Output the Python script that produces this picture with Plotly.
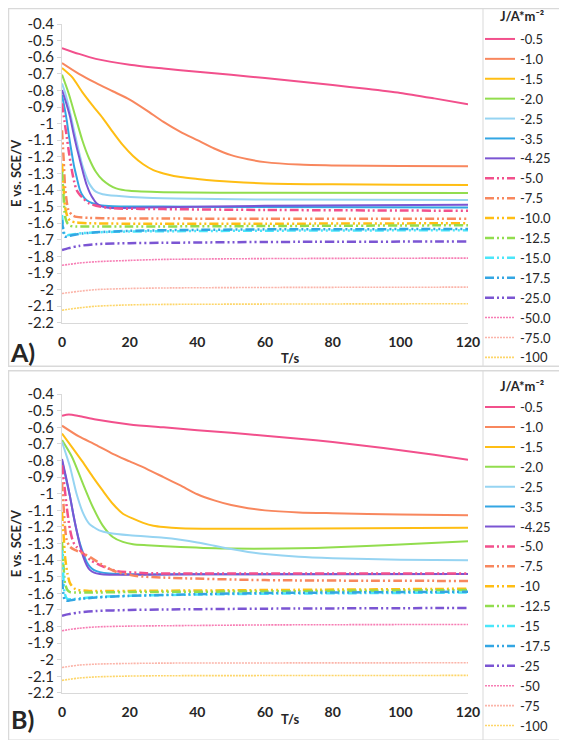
import plotly.graph_objects as go

# ---------------- DATA ----------------
LEGEND_TITLE = "<b>J/A*m⁻²</b>"
LABELS_A = ["-0.5", "-1.0", "-1.5", "-2.0", "-2.5", "-3.5", "-4.25", "-5.0", "-7.5",
            "-10.0", "-12.5", "-15.0", "-17.5", "-25.0", "-50.0", "-75.0", "-100"]
LABELS_B = ["-0.5", "-1.0", "-1.5", "-2.0", "-2.5", "-3.5", "-4.25", "-5.0", "-7.5",
            "-10", "-12.5", "-15", "-17.5", "-25", "-50", "-75", "-100"]

Y_TICK_VALUES = [-0.4, -0.5, -0.6, -0.7, -0.8, -0.9, -1.0, -1.1, -1.2, -1.3, -1.4,
                 -1.5, -1.6, -1.7, -1.8, -1.9, -2.0, -2.1, -2.2]
Y_TICK_TEXT = ["-0.4", "-0.5", "-0.6", "-0.7", "-0.8", "-0.9", "-1", "-1.1", "-1.2",
               "-1.3", "-1.4", "-1.5", "-1.6", "-1.7", "-1.8", "-1.9", "-2", "-2.1", "-2.2"]
X_TICK_VALUES = [0, 20, 40, 60, 80, 100, 120]
X_TITLE = "<b>T/s</b>"
Y_TITLE = "<b>E vs. SCE/V</b>"

# ---- Panel A ----
A_T_05 = [0, 5, 10, 20, 30, 40, 50, 60, 70, 80, 90, 100, 110, 120]
A_E_05 = [-0.545, -0.58, -0.61, -0.645, -0.668, -0.688, -0.706, -0.726, -0.746, -0.768, -0.79, -0.815, -0.848, -0.883]
A_T_10 = [0, 5, 10, 15, 20, 25, 30, 35, 40, 45, 50, 55, 60, 70, 80, 100, 120]
A_E_10 = [-0.635, -0.70, -0.755, -0.805, -0.855, -0.92, -0.99, -1.05, -1.10, -1.15, -1.19, -1.215, -1.232, -1.247, -1.252, -1.256, -1.257]
A_T_15 = [0, 3, 6, 9, 12, 15, 18, 21, 24, 27, 30, 35, 40, 50, 60, 80, 100, 120]
A_E_15 = [-0.665, -0.72, -0.81, -0.89, -0.965, -1.05, -1.13, -1.195, -1.245, -1.28, -1.30, -1.322, -1.333, -1.35, -1.36, -1.366, -1.368, -1.37]
A_T_20 = [0, 2, 4, 6, 8, 10, 12, 14, 16, 20, 30, 60, 120]
A_E_20 = [-0.705, -0.82, -0.96, -1.10, -1.21, -1.29, -1.34, -1.37, -1.39, -1.405, -1.413, -1.417, -1.418]
A_T_25 = [0, 1, 2, 3, 4, 5, 6, 7, 8, 10, 12, 16, 25, 40, 60, 120]
A_E_25 = [-0.758, -0.82, -0.90, -0.99, -1.08, -1.17, -1.25, -1.31, -1.36, -1.41, -1.425, -1.435, -1.447, -1.453, -1.457, -1.46]
A_T_35 = [0, 0.7, 1.4, 2.1, 2.9, 3.6, 4.3, 5.3, 6.3, 7.3, 9, 11.2, 15, 30, 60, 120]
A_E_35 = [-0.828, -0.90, -0.98, -1.08, -1.18, -1.26, -1.32, -1.40, -1.44, -1.462, -1.48, -1.492, -1.498, -1.50, -1.503, -1.505]
A_T_425 = [0, 1, 2.4, 3.3, 4.3, 5.3, 6.3, 7.3, 8.3, 9.3, 10.2, 11.5, 13.2, 16, 25, 60, 120]
A_E_425 = [-0.798, -0.86, -0.96, -1.05, -1.14, -1.22, -1.30, -1.37, -1.42, -1.455, -1.48, -1.497, -1.505, -1.508, -1.505, -1.495, -1.488]
A_T_50 = [0, 0.7, 1.4, 2.1, 2.9, 3.6, 4.3, 5.3, 6.3, 8, 11.2, 15, 30, 60, 120]
A_E_50 = [-0.878, -0.98, -1.08, -1.18, -1.28, -1.35, -1.40, -1.43, -1.451, -1.48, -1.50, -1.51, -1.515, -1.52, -1.525]
A_T_75 = [0, 0.5, 0.9, 1.4, 1.9, 3, 4.3, 8, 15, 30, 60, 120]
A_E_75 = [-1.04, -1.22, -1.38, -1.47, -1.52, -1.55, -1.562, -1.568, -1.571, -1.572, -1.573, -1.573]
A_T_100 = [0, 0.5, 0.9, 1.6, 2.4, 4, 8, 20, 60, 120]
A_E_100 = [-1.24, -1.40, -1.50, -1.56, -1.585, -1.595, -1.60, -1.603, -1.603, -1.60]
A_T_125 = [0, 0.5, 0.9, 1.6, 2.4, 4, 8, 20, 60, 120]
A_E_125 = [-1.29, -1.45, -1.56, -1.60, -1.615, -1.62, -1.62, -1.62, -1.617, -1.612]
A_T_150 = [0, 0.4, 0.8, 1.5, 3, 6, 10, 20, 40, 60, 120]
A_E_150 = [-1.55, -1.63, -1.665, -1.672, -1.668, -1.66, -1.655, -1.65, -1.647, -1.645, -1.642]
A_T_175 = [0, 0.4, 0.8, 1.5, 3, 6, 10, 20, 40, 60, 120]
A_E_175 = [-1.58, -1.65, -1.68, -1.68, -1.672, -1.662, -1.655, -1.646, -1.64, -1.637, -1.635]
A_T_250 = [0, 2, 5, 10, 20, 30, 60, 120]
A_E_250 = [-1.762, -1.75, -1.737, -1.726, -1.72, -1.718, -1.713, -1.71]
A_T_500 = [0, 2, 5, 10, 20, 30, 60, 120]
A_E_500 = [-1.853, -1.848, -1.84, -1.832, -1.824, -1.818, -1.813, -1.81]
A_T_750 = [0, 2, 5, 10, 20, 30, 60, 120]
A_E_750 = [-2.023, -2.018, -2.01, -2.0, -1.993, -1.99, -1.987, -1.985]
A_T_1000 = [0, 2, 5, 10, 20, 30, 60, 120]
A_E_1000 = [-2.124, -2.118, -2.11, -2.10, -2.092, -2.089, -2.087, -2.085]

# ---- Panel B ----
B_T_05 = [0, 2, 5, 10, 20, 30, 40, 50, 60, 70, 80, 90, 100, 110, 120]
B_E_05 = [-0.53, -0.523, -0.532, -0.553, -0.582, -0.60, -0.617, -0.633, -0.65, -0.668, -0.688, -0.712, -0.738, -0.765, -0.795]
B_T_10 = [0, 5, 10, 15, 20, 25, 30, 35, 40, 45, 50, 55, 60, 70, 80, 100, 120]
B_E_10 = [-0.59, -0.655, -0.705, -0.76, -0.805, -0.85, -0.90, -0.95, -1.003, -1.04, -1.068, -1.087, -1.10, -1.112, -1.117, -1.125, -1.13]
B_T_15 = [0, 3, 6, 9, 12, 15, 18, 21, 24, 27, 30, 35, 45, 60, 120]
B_E_15 = [-0.637, -0.72, -0.805, -0.895, -0.98, -1.06, -1.12, -1.15, -1.175, -1.192, -1.20, -1.207, -1.21, -1.21, -1.205]
B_T_20 = [0, 3, 6, 9, 12, 15, 18, 21, 25, 35, 50, 65, 75, 90, 100, 120]
B_E_20 = [-0.677, -0.78, -0.93, -1.075, -1.19, -1.26, -1.29, -1.304, -1.31, -1.32, -1.33, -1.33, -1.326, -1.315, -1.305, -1.286]
B_T_25 = [0, 1, 2.4, 4.3, 6.3, 8, 9.3, 11, 14, 20, 30, 35, 40, 45, 50, 55, 60, 70, 80, 100, 120]
B_E_25 = [-0.687, -0.75, -0.84, -1.0, -1.12, -1.18, -1.20, -1.22, -1.236, -1.25, -1.265, -1.277, -1.293, -1.313, -1.333, -1.35, -1.363, -1.38, -1.388, -1.397, -1.40]
B_T_35 = [0, 1.2, 2.4, 3.3, 4.3, 5.3, 6.3, 7.3, 8.3, 9.5, 11.2, 14, 20, 40, 120]
B_E_35 = [-0.80, -0.91, -1.02, -1.12, -1.22, -1.30, -1.36, -1.41, -1.44, -1.46, -1.472, -1.48, -1.485, -1.485, -1.483]
B_T_425 = [0, 1.2, 2.4, 3.3, 4.3, 5.3, 6.3, 7.3, 8.3, 9.5, 11.2, 14, 20, 40, 120]
B_E_425 = [-0.79, -0.90, -1.02, -1.12, -1.22, -1.31, -1.38, -1.43, -1.46, -1.475, -1.483, -1.487, -1.487, -1.485, -1.483]
B_T_50 = [0, 0.7, 1.4, 2.4, 3.3, 4.3, 6.3, 8.5, 11.2, 16, 25, 40, 120]
B_E_50 = [-0.828, -0.95, -1.08, -1.22, -1.29, -1.32, -1.36, -1.40, -1.43, -1.465, -1.478, -1.48, -1.48]
B_T_75 = [0, 0.4, 0.8, 1.4, 2.4, 4, 6.3, 9, 12, 16, 22, 30, 60, 120]
B_E_75 = [-0.93, -1.05, -1.18, -1.28, -1.32, -1.34, -1.36, -1.39, -1.43, -1.47, -1.495, -1.505, -1.52, -1.525]
B_T_100 = [0, 0.5, 0.9, 1.6, 2.4, 4, 8, 20, 60, 120]
B_E_100 = [-1.11, -1.26, -1.38, -1.48, -1.54, -1.575, -1.585, -1.585, -1.58, -1.572]
B_T_125 = [0, 0.5, 0.9, 1.6, 2.4, 4, 8, 20, 60, 120]
B_E_125 = [-1.29, -1.45, -1.54, -1.58, -1.592, -1.595, -1.595, -1.592, -1.588, -1.58]
B_T_150 = [0, 0.4, 0.8, 1.5, 3, 6, 10, 20, 40, 60, 120]
B_E_150 = [-1.34, -1.50, -1.60, -1.632, -1.635, -1.628, -1.622, -1.614, -1.607, -1.602, -1.595]
B_T_175 = [0, 0.4, 0.8, 1.5, 3, 6, 10, 20, 40, 60, 120]
B_E_175 = [-1.52, -1.60, -1.64, -1.645, -1.64, -1.632, -1.625, -1.615, -1.605, -1.598, -1.59]
B_T_250 = [0, 2, 5, 10, 20, 30, 60, 120]
B_E_250 = [-1.735, -1.725, -1.715, -1.706, -1.70, -1.697, -1.692, -1.688]
B_T_500 = [0, 2, 5, 10, 20, 30, 60, 120]
B_E_500 = [-1.825, -1.818, -1.81, -1.802, -1.797, -1.795, -1.79, -1.787]
B_T_750 = [0, 2, 5, 10, 20, 30, 60, 120]
B_E_750 = [-2.046, -2.04, -2.032, -2.026, -2.022, -2.02, -2.019, -2.018]
B_T_1000 = [0, 2, 5, 10, 20, 30, 60, 120]
B_E_1000 = [-2.124, -2.118, -2.11, -2.103, -2.098, -2.096, -2.095, -2.094]

# ---------------- STYLES ----------------
DDD = "9px,3px,2px,3px,2px,3px"
DOT = "2px,1px"
STYLES = [
    ("#F2508C", "solid", 2), ("#F8875E", "solid", 2), ("#FFBE14", "solid", 2),
    ("#92DD4E", "solid", 2), ("#96D4F2", "solid", 2), ("#33A6E3", "solid", 2),
    ("#7B55D3", "solid", 2),
    ("#F2508C", DDD, 2.5), ("#F8875E", DDD, 2.5), ("#FFBE14", DDD, 2.5),
    ("#92DD4E", DDD, 2.5), ("#4BE6FA", DDD, 2.5), ("#33A6E3", DDD, 2.5),
    ("#7B55D3", DDD, 2.5),
    ("#F77DB4", DOT, 1.6), ("#FBB5AA", DOT, 1.6), ("#FDD66A", DOT, 1.6),
]

SERIES_A = [(A_T_05, A_E_05), (A_T_10, A_E_10), (A_T_15, A_E_15), (A_T_20, A_E_20),
            (A_T_25, A_E_25), (A_T_35, A_E_35), (A_T_425, A_E_425), (A_T_50, A_E_50),
            (A_T_75, A_E_75), (A_T_100, A_E_100), (A_T_125, A_E_125), (A_T_150, A_E_150),
            (A_T_175, A_E_175), (A_T_250, A_E_250), (A_T_500, A_E_500), (A_T_750, A_E_750),
            (A_T_1000, A_E_1000)]
SERIES_B = [(B_T_05, B_E_05), (B_T_10, B_E_10), (B_T_15, B_E_15), (B_T_20, B_E_20),
            (B_T_25, B_E_25), (B_T_35, B_E_35), (B_T_425, B_E_425), (B_T_50, B_E_50),
            (B_T_75, B_E_75), (B_T_100, B_E_100), (B_T_125, B_E_125), (B_T_150, B_E_150),
            (B_T_175, B_E_175), (B_T_250, B_E_250), (B_T_500, B_E_500), (B_T_750, B_E_750),
            (B_T_1000, B_E_1000)]

# ---------------- LAYOUT ----------------
# The page body adds an 8px offset; the figure is laid out in screen pixels
# (S) and converted so that it lands where the reference has it.
OFF = 8
W, H = 567 - OFF, 740 - OFF
PLOT_L, PLOT_R = 62, 468          # screen px
PLOT_T, PLOT_B = 24, 692.7        # screen px (top of A, bottom of B)
ML = PLOT_L - OFF
MR = W - (PLOT_R - OFF)
MT = PLOT_T - OFF
MB = H - (PLOT_B - OFF)
PW = PLOT_R - PLOT_L
PH = PLOT_B - PLOT_T
FONT = "Lato, 'Open Sans', sans-serif"
TXT = "#262626"
AX_GRAY = "#D9D9D9"


def px_x(s):
    return (s - PLOT_L) / PW


def px_y(s):
    return 1 - (s - PLOT_T) / PH


fig = go.Figure()

for series, labels, xa, ya, leg in [
    (SERIES_A, LABELS_A, "x", "y", "legend"),
    (SERIES_B, LABELS_B, "x2", "y2", "legend2"),
]:
    for (t, e), lab, (col, dash, wid) in zip(series, labels, STYLES):
        fig.add_trace(go.Scatter(
            x=t, y=e, mode="lines", name=lab, xaxis=xa, yaxis=ya, legend=leg,
            line=dict(color=col, dash=dash, width=wid, shape="spline", smoothing=0.7),
            hoverinfo="skip"))

xaxis_common = dict(range=[0, 120], tickvals=X_TICK_VALUES, showgrid=False, zeroline=False,
                    showline=True, linecolor=AX_GRAY, linewidth=1, ticks="outside",
                    ticklen=6, tickcolor="rgba(0,0,0,0)", automargin=False,
                    tickfont=dict(family=FONT, size=14, color=TXT, weight="bold"))
yaxis_common = dict(range=[-2.2, -0.4], tickvals=Y_TICK_VALUES, ticktext=Y_TICK_TEXT,
                    showgrid=False, zeroline=False, showline=True, linecolor=AX_GRAY,
                    linewidth=1, ticks="outside", ticklen=4, tickcolor=AX_GRAY, automargin=False,
                    tickfont=dict(family=FONT, size=15, color=TXT),
                    title=dict(text=Y_TITLE, font=dict(family=FONT, size=13, color=TXT),
                               standoff=5))

legend_common = dict(xanchor="left", yanchor="top", itemwidth=30,
                     font=dict(family=FONT, size=13, color=TXT),
                     bgcolor="rgba(0,0,0,0)", tracegroupgap=0)

fig.update_layout(
    width=W, height=H, margin=dict(l=ML, r=MR, t=MT, b=MB, autoexpand=False),
    paper_bgcolor="white", plot_bgcolor="white",
    xaxis=dict(domain=[0, 1], anchor="y", **xaxis_common),
    yaxis=dict(domain=[px_y(322.7), 1], anchor="x", **yaxis_common),
    xaxis2=dict(domain=[0, 1], anchor="y2", **xaxis_common),
    yaxis2=dict(domain=[0, px_y(394)], anchor="x2", **yaxis_common),
    legend=dict(x=px_x(480), y=px_y(24), **legend_common),
    legend2=dict(x=px_x(480), y=px_y(392), **legend_common),
    showlegend=True,
)

# panel frames and legend separators
shapes = []
for top, bot in [(OFF, 366), (370, 740)]:
    shapes.append(dict(type="rect", xref="paper", yref="paper", x0=px_x(OFF + 0.5),
                       x1=px_x(566), y0=px_y(bot), y1=px_y(top + 0.5),
                       line=dict(color=AX_GRAY, width=1.5)))
    shapes.append(dict(type="line", xref="paper", yref="paper", x0=px_x(483), x1=px_x(483),
                       y0=px_y(bot), y1=px_y(top), line=dict(color=AX_GRAY, width=1)))
fig.update_layout(shapes=shapes)

# x-axis titles (offset to the right of the plot centre, as in the reference)
for yc in [358, 719]:
    fig.add_annotation(text=X_TITLE, xref="paper", yref="paper", x=px_x(290), y=px_y(yc),
                       showarrow=False, xanchor="center", yanchor="middle",
                       font=dict(family=FONT, size=13, color=TXT))

# legend titles
for yc in [16, 386]:
    fig.add_annotation(text=LEGEND_TITLE, xref="paper", yref="paper", x=px_x(522),
                       y=px_y(yc), showarrow=False, xanchor="center", yanchor="middle",
                       font=dict(family=FONT, size=13, color=TXT))

# panel letters
for lab, yc in [("A)", 352), ("B)", 719)]:
    fig.add_annotation(text="<b>%s</b>" % lab, xref="paper", yref="paper", x=px_x(22),
                       y=px_y(yc), showarrow=False, xanchor="center", yanchor="middle",
                       font=dict(family=FONT, size=25, color=TXT))

fig.write_html("out.html")
